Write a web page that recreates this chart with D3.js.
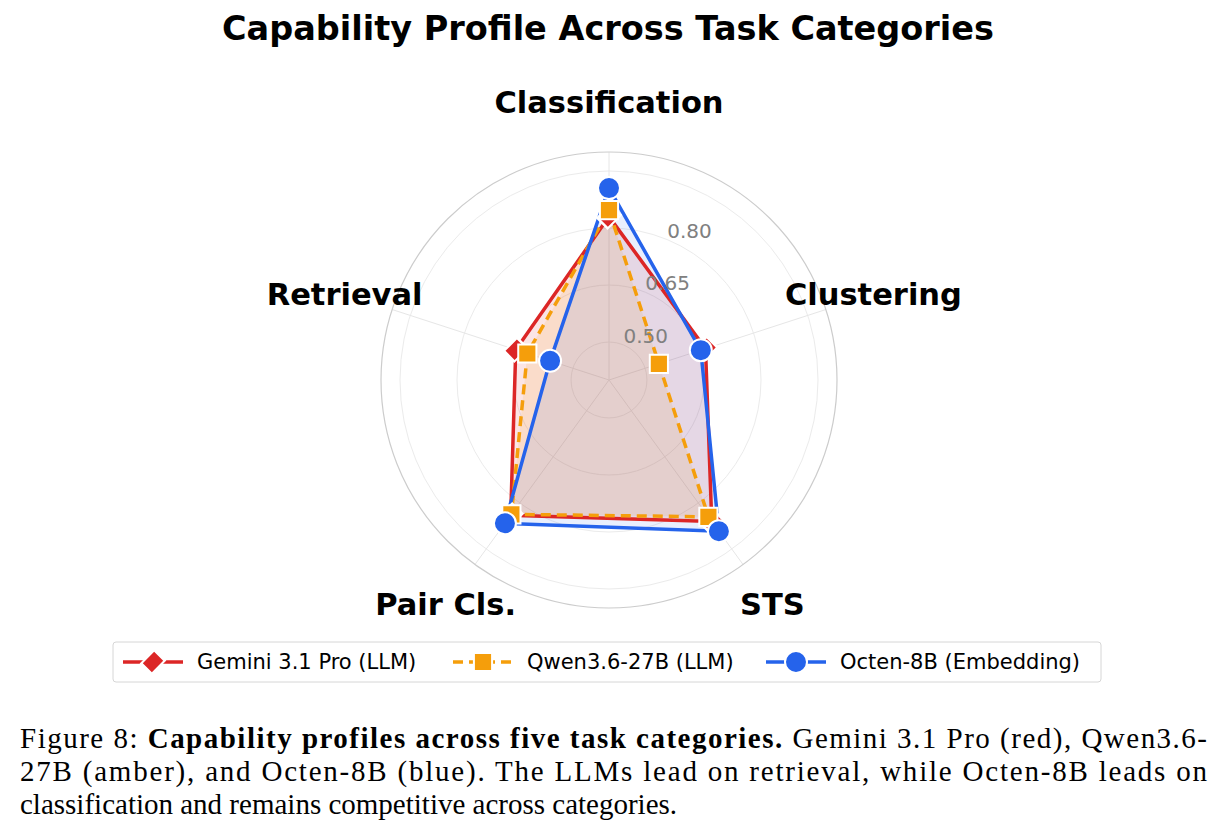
<!DOCTYPE html>
<html><head><meta charset="utf-8">
<script src="https://cdn.jsdelivr.net/npm/d3@7"></script>
<style>body{margin:0;background:#fff}</style>
</head><body>
<svg id="chart" width="1223" height="835"></svg>
<script>
'use strict'
const categories = ['Classification', 'Clustering', 'STS', 'Pair Cls.', 'Retrieval']
const gemini = [0.83, 0.667, 0.86, 0.84, 0.658]
const qwen = [0.847, 0.538, 0.845, 0.837, 0.626]
const octen = [0.905, 0.654, 0.892, 0.866, 0.563]
const rTicks = [0.5, 0.65, 0.8]

const series = [
  { name: 'Gemini 3.1 Pro (LLM)', values: gemini, color: '#dc2626', fill: 'rgba(220,38,38,0.12)', dash: null, marker: 'diamond' },
  { name: 'Qwen3.6-27B (LLM)', values: qwen, color: '#f59e0b', fill: 'rgba(245,158,11,0.12)', dash: '10,6', marker: 'square' },
  { name: 'Octen-8B (Embedding)', values: octen, color: '#2563eb', fill: 'rgba(37,99,235,0.10)', dash: null, marker: 'circle' },
]

const svg = d3.select('#chart')
const cx = 609, cy = 380, R = 228
const r = d3.scaleLinear().domain([0.4, 1.0]).range([0, R])
const ang = d3.scaleLinear().domain([0, categories.length]).range([0, 2 * Math.PI])
const pt = (i, v) => [cx + Math.sin(ang(i)) * r(v), cy - Math.cos(ang(i)) * r(v)]

svg.append('text').attr('x', 608).attr('y', 40).attr('text-anchor', 'middle')
  .attr('font-family', 'DejaVu Sans').attr('font-weight', 'bold').attr('font-size', 33.5)
  .text('Capability Profile Across Task Categories')

const g = svg.append('g')
// grid
rTicks.concat([0.95]).forEach(t => g.append('circle').attr('cx', cx).attr('cy', cy).attr('r', r(t))
  .attr('fill', 'none').attr('stroke', '#ebebeb').attr('stroke-width', 1))
categories.forEach((c, i) => {
  const [x, y] = pt(i, 1.0)
  g.append('line').attr('x1', cx).attr('y1', cy).attr('x2', x).attr('y2', y)
    .attr('stroke', '#e6e6e6').attr('stroke-width', 1)
})
g.append('circle').attr('cx', cx).attr('cy', cy).attr('r', R)
  .attr('fill', 'none').attr('stroke', '#cccccc').attr('stroke-width', 1.2)

// axis labels
categories.forEach((c, i) => {
  const a = ang(i)
  g.append('text').attr('x', cx + Math.sin(a) * 278).attr('y', cy - Math.cos(a) * 278)
    .attr('text-anchor', 'middle').attr('dominant-baseline', 'central')
    .attr('font-family', 'DejaVu Sans').attr('font-weight', 'bold').attr('font-size', 30.5)
    .text(c)
})

// series
const line = d3.lineRadial().angle((d, i) => ang(i)).radius(d => r(d)).curve(d3.curveLinearClosed)
series.forEach(s => {
  g.append('path').attr('transform', `translate(${cx},${cy})`).attr('d', line(s.values))
    .attr('fill', s.fill).attr('stroke', 'none')
})
series.forEach(s => {
  g.append('path').attr('transform', `translate(${cx},${cy})`).attr('d', line(s.values))
    .attr('fill', 'none').attr('stroke', s.color).attr('stroke-width', 3.5)
    .attr('stroke-dasharray', s.dash).attr('stroke-linejoin', 'miter')
})
function marker(sel, s, x, y) {
  const shape = s.marker === 'diamond' ? d3.symbol().type(d3.symbolSquare).size(220) : s.marker === 'square' ? d3.symbol().type(d3.symbolSquare).size(330) : d3.symbol().type(d3.symbolCircle).size(380)
  sel.append('path').attr('d', shape()).attr('transform', `translate(${x},${y})` + (s.marker === 'diamond' ? ' rotate(45) scale(1,1.25)' : ''))
    .attr('fill', s.color).attr('stroke', '#fff').attr('stroke-width', 2)
}
series.forEach(s => s.values.forEach((v, i) => { const [x, y] = pt(i, v); marker(g, s, x, y) }))

// radial tick labels
const la = Math.PI / 8
rTicks.forEach(t => {
  g.append('text').attr('x', cx + Math.sin(la) * r(t)).attr('y', cy - Math.cos(la) * r(t) - 2)
    .attr('font-family', 'DejaVu Sans').attr('font-size', 20).attr('fill', '#808080')
    .text(d3.format('.2f')(t))
})

// legend
svg.append('rect').attr('x', 113).attr('y', 642).attr('width', 988).attr('height', 40).attr('rx', 3)
  .attr('fill', '#fff').attr('stroke', '#d6d6d6')
const lx = [123, 453, 766]
series.forEach((s, i) => {
  const lg = svg.append('g')
  lg.append('line').attr('x1', lx[i]).attr('x2', lx[i] + 60).attr('y1', 662).attr('y2', 662)
    .attr('stroke', s.color).attr('stroke-width', 3.5).attr('stroke-dasharray', s.dash)
  marker(lg, s, lx[i] + 30, 662)
  lg.append('text').attr('x', lx[i] + 74).attr('y', 662).attr('dominant-baseline', 'central')
    .attr('font-family', 'DejaVu Sans').attr('font-size', 21).text(s.name)
})

// caption
const capLines = [
  [['Figure 8: ', false], ['Capability profiles across five task categories.', true], [' Gemini 3.1 Pro (red), Qwen3.6-', false]],
  [['27B (amber), and Octen-8B (blue).  The LLMs lead on retrieval, while Octen-8B leads on', false]],
  [['classification and remains competitive across categories.', false]],
]
capLines.forEach((ln, j) => {
  const t = svg.append('text').attr('x', 20).attr('y', 748 + j * 33).attr('font-family', 'Liberation Serif').attr('font-size', 29)
  if (j < 2) t.attr('textLength', 1187).attr('lengthAdjust', 'spacing')
  ln.forEach(([txt, b]) => t.append('tspan').attr('font-weight', b ? 'bold' : 'normal').text(txt))
})
</script>
</body></html>
